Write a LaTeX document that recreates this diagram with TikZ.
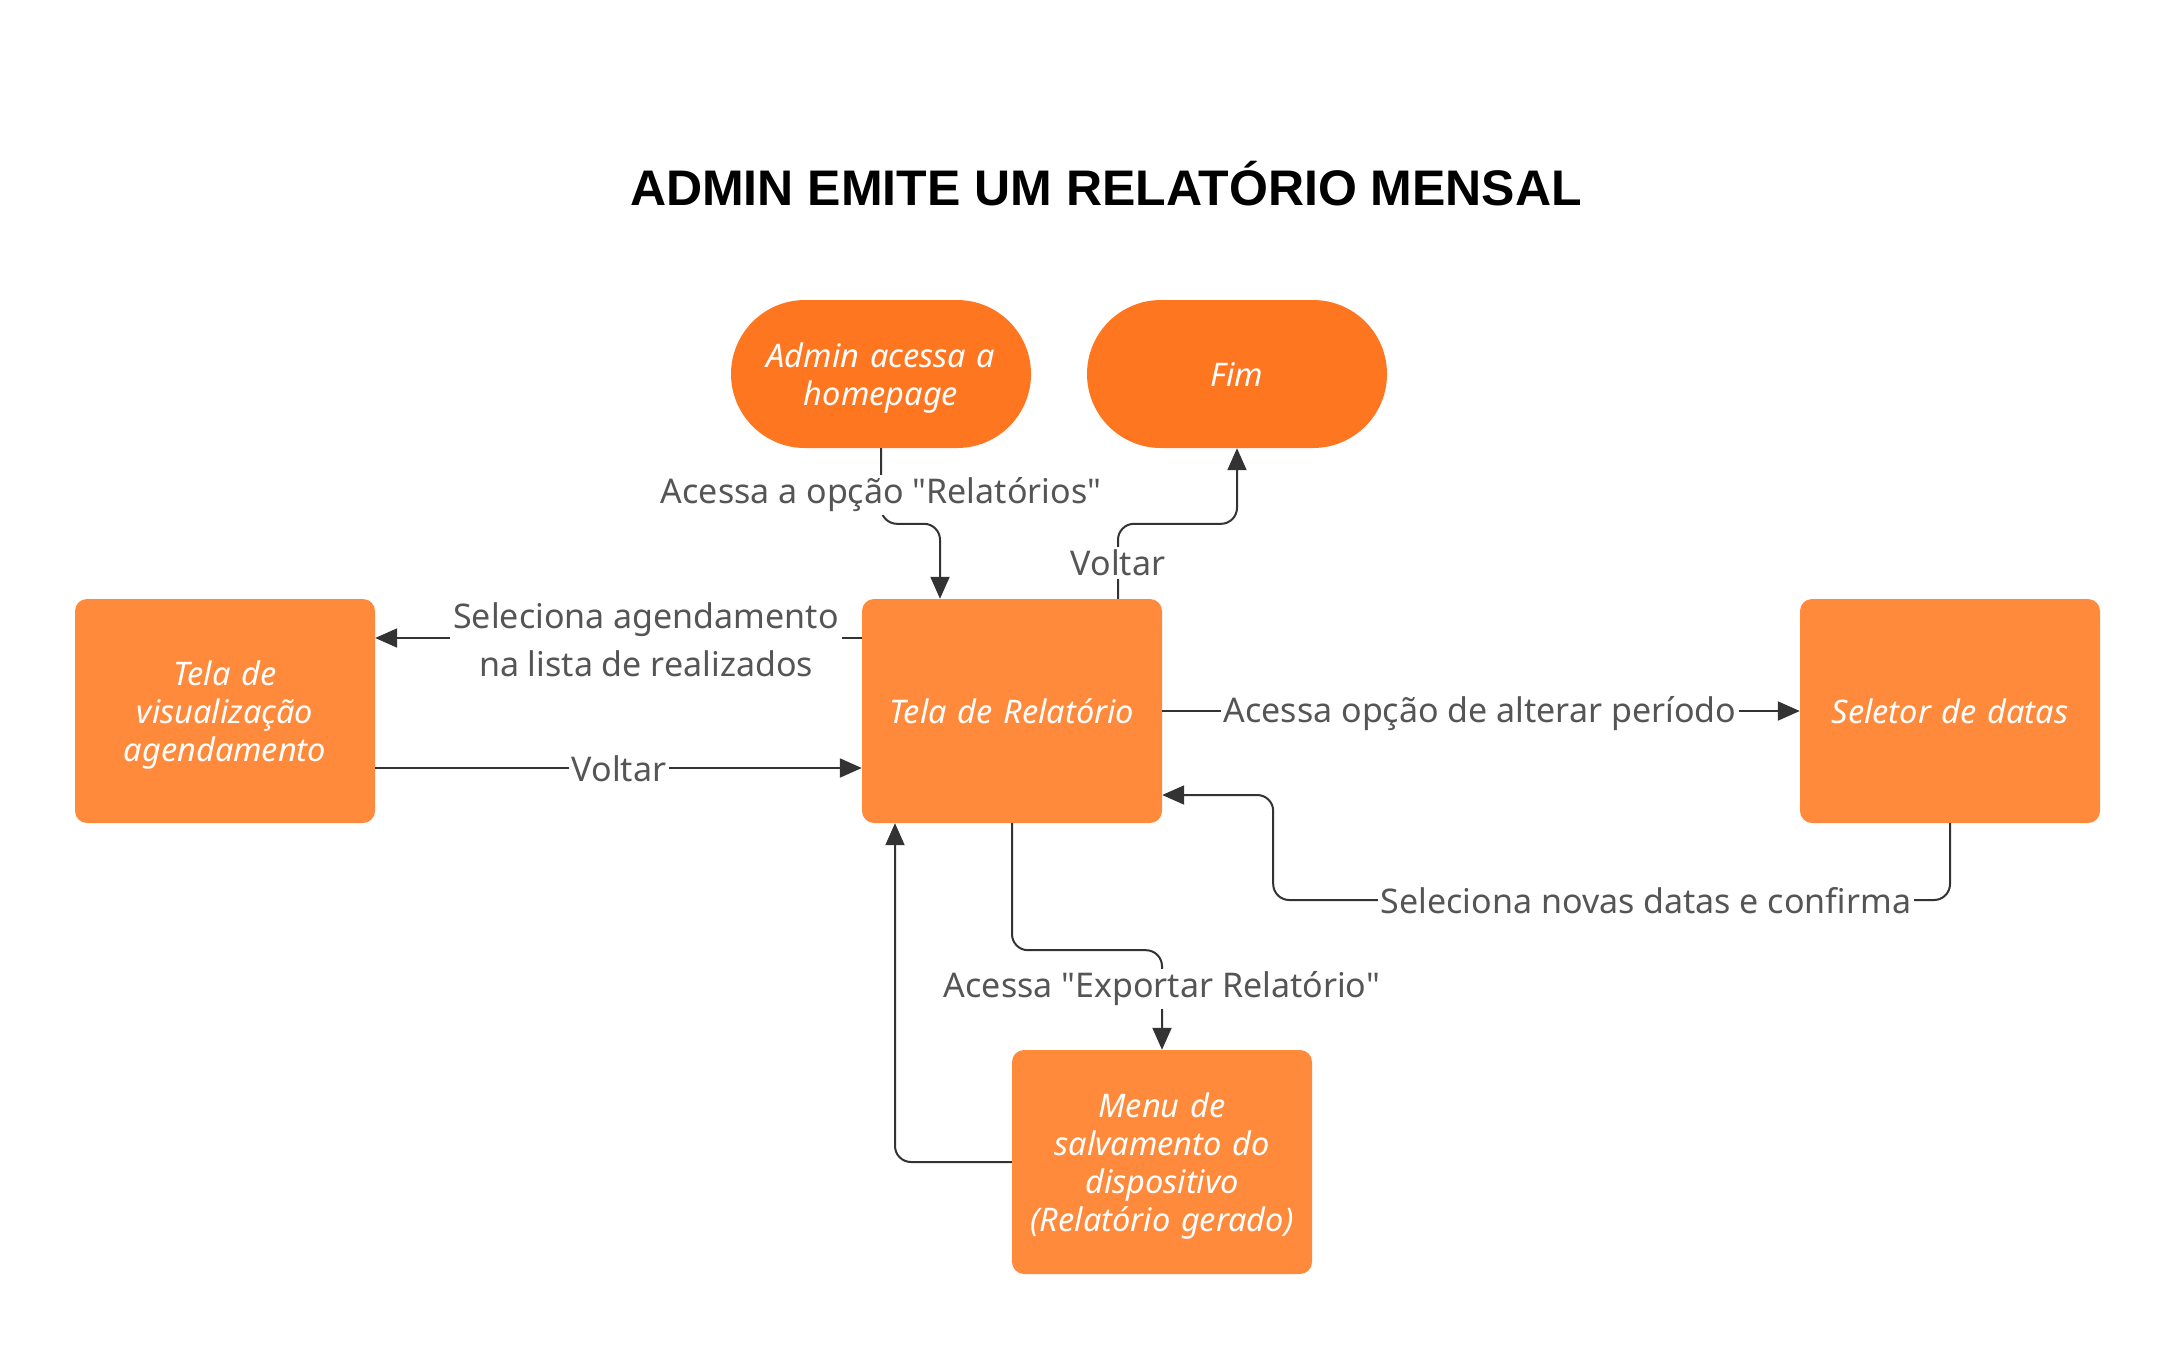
\documentclass[tikz,border=0pt]{standalone}
\usepackage{fontspec}
\setmainfont{Noto Sans}[Ligatures=TeXOff]
\newfontfamily\ttlfont{Liberation Sans}[Ligatures=TeXOff]
\usetikzlibrary{arrows.meta}
\definecolor{boxor}{HTML}{FF8A3B}
\definecolor{termor}{HTML}{FF7621}
\definecolor{lblgray}{HTML}{555555}
\definecolor{lineg}{HTML}{333333}
\begin{document}
\begin{tikzpicture}[x=1pt,y=-1pt,
  nodetext/.style={text width=290pt, align=center, font=\fontsize{32.5}{38}\selectfont\itshape,
    text=white, inner sep=0pt, execute at begin node={\rule{0pt}{25pt}}},
  multi/.style={execute at begin node={\rule{0pt}{32pt}}},
  box/.style={nodetext, fill=boxor, rounded corners=12pt, minimum width=300pt, minimum height=224pt},
  term/.style={nodetext, fill=termor, rounded corners=74pt, minimum width=300pt, minimum height=148pt},
  conn/.style={draw=lineg, line width=2pt, rounded corners=16pt},
  arr/.style={-{Triangle[length=22pt,width=19pt]}},
  lbl/.style={fill=white, text=lblgray, font=\fontsize{34}{48}\selectfont, inner sep=3pt, align=center},
  ttl/.style={font=\ttlfont\fontsize{50}{56}\selectfont\bfseries, text=black}]
\useasboundingbox[fill=white] (0,0) rectangle (2175,1350);

\node[ttl] (title) at (1106,184) {ADMIN EMITE UM RELATÓRIO MENSAL};

\node[term,multi] (admin) at (881,374) {Admin acessa a\\homepage};
\node[term] (fim) at (1237,374) {Fim};
\node[box,multi] (vis) at (225,711) {Tela de\\visualização\\agendamento};
\node[box] (rel) at (1012,711) {Tela de Relatório};
\node[box] (sel) at (1950,711) {Seletor de datas};
\node[box,multi] (menu) at (1162,1162) {Menu de\\salvamento do\\dispositivo\\(Relatório gerado)};

\draw[conn,arr] (admin.south) |- ([xshift=-72pt,yshift=75pt]rel.north) -- ([xshift=-72pt]rel.north);
\draw[conn,arr] ([xshift=106pt]rel.north) -- ([xshift=106pt,yshift=75pt]rel.north) -| (fim.south);
\draw[conn,arr] ([yshift=73pt]rel.west) -- ([yshift=73pt]vis.east);
\draw[conn,arr] ([yshift=-57pt]vis.east) -- ([yshift=-57pt]rel.west);
\draw[conn,arr] (rel.east) -- (sel.west);
\draw[conn,arr] (sel.south) |- ([xshift=111pt,yshift=-189pt]rel.east) |- ([yshift=-84pt]rel.east);
\draw[conn,arr] (rel.south) -- ([yshift=-127pt]rel.south) -| (menu.north);
\draw[conn,arr] (menu.west) -| ([xshift=-117pt]rel.south);

\node[lbl] (l1) at (881,495) {Acessa a opção "Relatórios"};
\node[lbl] (l2) at (1118,563) {Voltar};
\node[lbl] (l3) at (646,640) {Seleciona agendamento\\na lista de realizados};
\node[lbl] (l4) at (619,769) {Voltar};
\node[lbl] (l5) at (1480,714) {Acessa opção de alterar período};
\node[lbl] (l6) at (1646,901) {Seleciona novas datas e confirma};
\node[lbl] (l7) at (1162,989) {Acessa "Exportar Relatório"};
\end{tikzpicture}
\end{document}
